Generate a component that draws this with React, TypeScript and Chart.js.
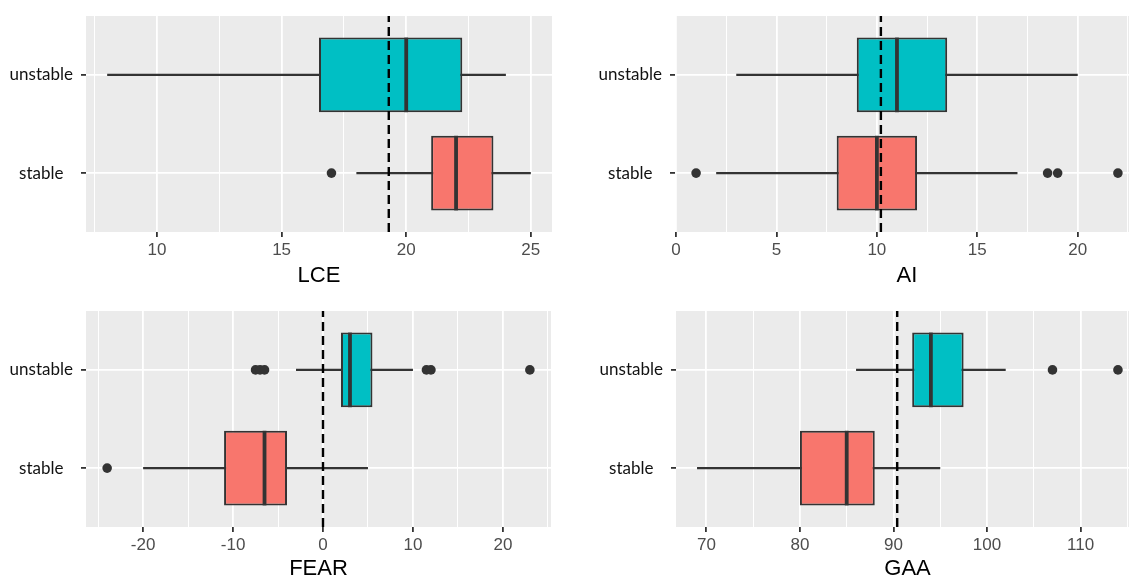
import React, { useEffect, useRef } from 'react';
import { Chart, registerables } from 'chart.js';

Chart.register(...registerables);

// ---------- data ----------
const GROUPS = ['unstable', 'stable'];
const GROUP_POS = [2, 1];

// LCE  (values in order: unstable, stable)
const LCE_LOWER = [8, 18];
const LCE_Q1 = [16.5, 21];
const LCE_MEDIAN = [20, 22];
const LCE_Q3 = [22.25, 23.5];
const LCE_UPPER = [24, 25];
const LCE_OUTLIERS_UNSTABLE: number[] = [];
const LCE_OUTLIERS_STABLE = [17];
const LCE_REF = 19.3;
const LCE_TICKS = [10, 15, 20, 25];

// AI
const AI_LOWER = [3, 2];
const AI_Q1 = [9, 8];
const AI_MEDIAN = [11, 10];
const AI_Q3 = [13.5, 12];
const AI_UPPER = [20, 17];
const AI_OUTLIERS_UNSTABLE: number[] = [];
const AI_OUTLIERS_STABLE = [1, 18.5, 19, 22];
const AI_REF = 10.2;
const AI_TICKS = [0, 5, 10, 15, 20];

// FEAR
const FEAR_LOWER = [-3, -20];
const FEAR_Q1 = [2, -11];
const FEAR_MEDIAN = [3, -6.5];
const FEAR_Q3 = [5.5, -4];
const FEAR_UPPER = [10, 5];
const FEAR_OUTLIERS_UNSTABLE = [-7.5, -7, -6.5, 11.5, 12, 23];
const FEAR_OUTLIERS_STABLE = [-24];
const FEAR_REF = 0;
const FEAR_TICKS = [-20, -10, 0, 10, 20];

// GAA
const GAA_LOWER = [86, 69];
const GAA_Q1 = [92, 80];
const GAA_MEDIAN = [94, 85];
const GAA_Q3 = [97.5, 88];
const GAA_UPPER = [102, 95];
const GAA_OUTLIERS_UNSTABLE = [107, 114];
const GAA_OUTLIERS_STABLE: number[] = [];
const GAA_REF = 90.4;
const GAA_TICKS = [70, 80, 90, 100, 110];

// ---------- style ----------
const FILLS = ['#00BFC4', '#F8766D'];
const INK = '#333333';
const PANEL_BG = '#EBEBEB';
const BOX_WIDTH = 0.76;
const Y_MIN = 0.4;
const Y_MAX = 2.6;
const PAD_TOP = 24;
const PAD_RIGHT = 20;

type Layout = { left: number; top: number; axisW: number; plotW: number; plotH: number; xAxisH: number };
type Panel = {
  title: string;
  lower: number[];
  q1: number[];
  median: number[];
  q3: number[];
  upper: number[];
  outliers: number[][];
  ref: number;
  ticks: number[];
  layout: Layout;
};

const PANELS: Panel[] = [
  {
    title: 'LCE', lower: LCE_LOWER, q1: LCE_Q1, median: LCE_MEDIAN, q3: LCE_Q3, upper: LCE_UPPER,
    outliers: [LCE_OUTLIERS_UNSTABLE, LCE_OUTLIERS_STABLE], ref: LCE_REF, ticks: LCE_TICKS,
    layout: { left: 0, top: 16 - PAD_TOP, axisW: 86, plotW: 466, plotH: 216, xAxisH: 57 },
  },
  {
    title: 'AI', lower: AI_LOWER, q1: AI_Q1, median: AI_MEDIAN, q3: AI_Q3, upper: AI_UPPER,
    outliers: [AI_OUTLIERS_UNSTABLE, AI_OUTLIERS_STABLE], ref: AI_REF, ticks: AI_TICKS,
    layout: { left: 565, top: 16 - PAD_TOP, axisW: 110, plotW: 464, plotH: 216, xAxisH: 57 },
  },
  {
    title: 'FEAR', lower: FEAR_LOWER, q1: FEAR_Q1, median: FEAR_MEDIAN, q3: FEAR_Q3, upper: FEAR_UPPER,
    outliers: [FEAR_OUTLIERS_UNSTABLE, FEAR_OUTLIERS_STABLE], ref: FEAR_REF, ticks: FEAR_TICKS,
    layout: { left: 0, top: 311 - PAD_TOP, axisW: 86, plotW: 465, plotH: 216, xAxisH: 55 },
  },
  {
    title: 'GAA', lower: GAA_LOWER, q1: GAA_Q1, median: GAA_MEDIAN, q3: GAA_Q3, upper: GAA_UPPER,
    outliers: [GAA_OUTLIERS_UNSTABLE, GAA_OUTLIERS_STABLE], ref: GAA_REF, ticks: GAA_TICKS,
    layout: { left: 565, top: 311 - PAD_TOP, axisW: 111, plotW: 463, plotH: 216, xAxisH: 55 },
  },
];

const panelBgPlugin = {
  id: 'panelBg',
  beforeDraw(chart: any) {
    const { ctx, chartArea: a } = chart;
    ctx.save();
    ctx.fillStyle = PANEL_BG;
    ctx.fillRect(a.left, a.top, a.right - a.left, a.bottom - a.top);
    ctx.restore();
  },
};

function buildXTicks(majors: number[], min: number, max: number) {
  const half = (majors[1] - majors[0]) / 2;
  const kStart = Math.floor((min - majors[0]) / half);
  const kEnd = Math.ceil((max - majors[0]) / half);
  const out: { value: number; minor: boolean }[] = [];
  for (let k = kStart; k <= kEnd; k++) {
    const v = majors[0] + k * half;
    if (v >= min && v <= max) out.push({ value: v, minor: Math.abs(k) % 2 === 1 });
  }
  return out;
}

function buildConfig(p: Panel): any {
  const all = [...p.lower, ...p.upper, ...p.outliers[0], ...p.outliers[1]];
  const lo = Math.min(...all);
  const hi = Math.max(...all);
  const ex = (hi - lo) * 0.05;
  const xMin = lo - ex;
  const xMax = hi + ex;
  const xTicks = buildXTicks(p.ticks, xMin, xMax);
  const L = p.layout;

  const datasets: any[] = [];
  GROUPS.forEach((g, i) => {
    datasets.push({
      type: 'line', label: g + ' whisker',
      data: [{ x: p.lower[i], y: GROUP_POS[i] }, { x: p.upper[i], y: GROUP_POS[i] }],
      borderColor: INK, borderWidth: 2.1, pointRadius: 0, fill: false, tension: 0, order: 5,
    });
  });
  datasets.push({
    type: 'bar', indexAxis: 'y', label: 'IQR',
    data: GROUPS.map((g, i) => ({ x: [p.q1[i], p.q3[i]], y: GROUP_POS[i] })),
    backgroundColor: FILLS, borderColor: INK, borderWidth: 2, borderSkipped: false,
    categoryPercentage: 1, barPercentage: BOX_WIDTH, order: 4,
  });
  GROUPS.forEach((g, i) => {
    datasets.push({
      type: 'line', label: g + ' median',
      data: [
        { x: p.median[i], y: GROUP_POS[i] - BOX_WIDTH / 2 },
        { x: p.median[i], y: GROUP_POS[i] + BOX_WIDTH / 2 },
      ],
      borderColor: INK, borderWidth: 3.8, pointRadius: 0, fill: false, tension: 0, order: 3,
    });
  });
  datasets.push({
    type: 'line', label: 'reference',
    data: [{ x: p.ref, y: Y_MIN }, { x: p.ref, y: Y_MAX }],
    borderColor: '#000000', borderWidth: 2.4, borderDash: [9, 5], pointRadius: 0, fill: false, order: 2,
  });
  datasets.push({
    type: 'scatter', label: 'outliers',
    data: GROUPS.flatMap((g, i) => p.outliers[i].map((v) => ({ x: v, y: GROUP_POS[i] }))),
    pointRadius: 4.8, pointBackgroundColor: INK, pointBorderWidth: 0, pointBorderColor: INK, order: 1,
  });

  return {
    type: 'bar',
    data: { datasets },
    plugins: [panelBgPlugin],
    options: {
      animation: false,
      responsive: false,
      maintainAspectRatio: false,
      events: [],
      layout: { padding: { top: PAD_TOP, right: PAD_RIGHT, bottom: 0, left: 0 } },
      plugins: { legend: { display: false }, tooltip: { enabled: false } },
      scales: {
        x: {
          type: 'linear', axis: 'x', position: 'bottom',
          min: xMin, max: xMax, offset: false, beginAtZero: false,
          grid: {
            offset: false, color: '#FFFFFF',
            lineWidth: (c: any) => (c.tick && c.tick.minor ? 1 : 1.8),
            tickColor: (c: any) => (c.tick && c.tick.minor ? 'rgba(0,0,0,0)' : INK),
            tickLength: 5, tickWidth: 1.8, drawTicks: true,
          },
          border: { display: false },
          ticks: {
            autoSkip: false, maxRotation: 0, minRotation: 0, padding: 3,
            color: '#4D4D4D', font: { family: 'Liberation Sans', size: 17 },
            callback: (v: number, i: number, ticks: any[]) => (ticks[i] && ticks[i].minor ? '' : String(v)),
          },
          afterBuildTicks: (s: any) => {
            s.ticks = xTicks.map((t) => ({ value: t.value, minor: t.minor }));
          },
          afterFit: (s: any) => {
            s.height = L.xAxisH;
          },
          title: {
            display: true, text: p.title, color: '#000000',
            font: { family: 'Liberation Sans', size: 22 }, padding: 0,
          },
        },
        y: {
          type: 'linear', axis: 'y', position: 'left',
          min: Y_MIN, max: Y_MAX, offset: false, beginAtZero: false,
          grid: {
            offset: false, color: '#FFFFFF', lineWidth: 1.8,
            tickColor: INK, tickLength: 5, tickWidth: 1.8, drawTicks: true,
          },
          border: { display: false },
          ticks: {
            autoSkip: false, padding: 8, crossAlign: 'center',
            color: '#111111', font: { family: 'Lato', size: 17 },
            callback: (v: number) => {
              const idx = GROUP_POS.indexOf(v);
              return idx >= 0 ? GROUPS[idx] : '';
            },
          },
          afterBuildTicks: (s: any) => {
            s.ticks = GROUP_POS.map((v) => ({ value: v }));
          },
          afterFit: (s: any) => {
            s.width = L.axisW;
          },
        },
      },
    },
  };
}

function BoxPanel({ panel }: { panel: Panel }) {
  const ref = useRef<HTMLCanvasElement>(null);
  useEffect(() => {
    const cv = ref.current;
    if (!cv) return;
    const chart = new Chart(cv, buildConfig(panel));
    return () => chart.destroy();
  }, [panel]);
  const L = panel.layout;
  const width = L.axisW + L.plotW + PAD_RIGHT;
  const height = PAD_TOP + L.plotH + L.xAxisH;
  return (
    <canvas
      ref={ref}
      width={width}
      height={height}
      style={{ position: 'absolute', left: L.left, top: L.top, width, height, display: 'block' }}
    />
  );
}

export default function App() {
  return (
    <div
      style={{
        position: 'fixed', left: 0, top: 0, width: 1129, height: 580,
        overflow: 'hidden', background: '#FFFFFF',
      }}
    >
      {PANELS.map((p) => (
        <BoxPanel key={p.title} panel={p} />
      ))}
    </div>
  );
}
